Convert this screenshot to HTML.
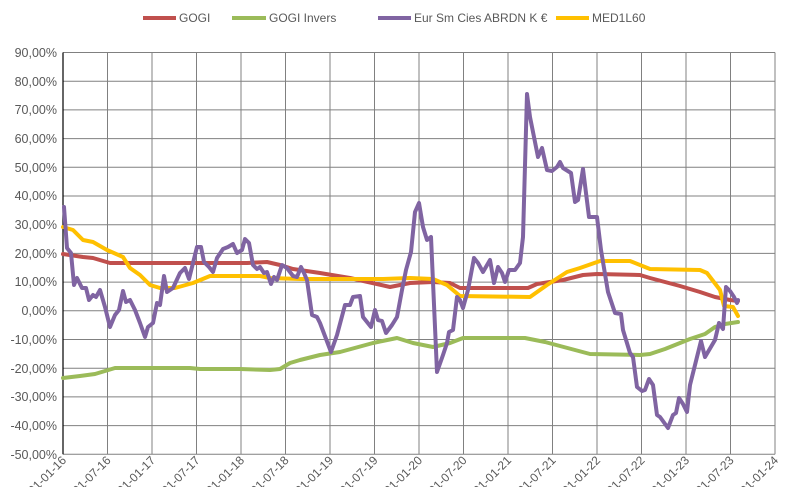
<!DOCTYPE html>
<html><head><meta charset="utf-8"><style>
body{margin:0;background:#fff;}
svg{display:block;font-family:"Liberation Sans",sans-serif;}
</style></head><body>
<svg width="791" height="487" viewBox="0 0 791 487">
<rect width="791" height="487" fill="#fff"/>
<g stroke="#808080" stroke-width="1">
<line x1="63" y1="52.5" x2="775" y2="52.5"/><line x1="63" y1="81.2" x2="775" y2="81.2"/><line x1="63" y1="109.9" x2="775" y2="109.9"/><line x1="63" y1="138.6" x2="775" y2="138.6"/><line x1="63" y1="167.3" x2="775" y2="167.3"/><line x1="63" y1="196" x2="775" y2="196"/><line x1="63" y1="224.7" x2="775" y2="224.7"/><line x1="63" y1="253.4" x2="775" y2="253.4"/><line x1="63" y1="282.1" x2="775" y2="282.1"/><line x1="63" y1="310.8" x2="775" y2="310.8"/><line x1="63" y1="339.5" x2="775" y2="339.5"/><line x1="63" y1="368.2" x2="775" y2="368.2"/><line x1="63" y1="396.9" x2="775" y2="396.9"/><line x1="63" y1="425.6" x2="775" y2="425.6"/><line x1="63" y1="454.3" x2="775" y2="454.3"/>
<line x1="107.5" y1="52.5" x2="107.5" y2="454.3"/><line x1="152" y1="52.5" x2="152" y2="454.3"/><line x1="196.5" y1="52.5" x2="196.5" y2="454.3"/><line x1="241" y1="52.5" x2="241" y2="454.3"/><line x1="285.5" y1="52.5" x2="285.5" y2="454.3"/><line x1="330" y1="52.5" x2="330" y2="454.3"/><line x1="374.5" y1="52.5" x2="374.5" y2="454.3"/><line x1="419" y1="52.5" x2="419" y2="454.3"/><line x1="463.5" y1="52.5" x2="463.5" y2="454.3"/><line x1="508" y1="52.5" x2="508" y2="454.3"/><line x1="552.5" y1="52.5" x2="552.5" y2="454.3"/><line x1="597" y1="52.5" x2="597" y2="454.3"/><line x1="641.5" y1="52.5" x2="641.5" y2="454.3"/><line x1="686" y1="52.5" x2="686" y2="454.3"/><line x1="730.5" y1="52.5" x2="730.5" y2="454.3"/><line x1="775" y1="52.5" x2="775" y2="454.3"/>
</g>
<line x1="63" y1="52.5" x2="63" y2="454.3" stroke="#000" stroke-width="1.2"/>
<g font-size="12.5" fill="#595959" text-anchor="end">
<text x="57" y="57">90,00%</text><text x="57" y="86">80,00%</text><text x="57" y="114">70,00%</text><text x="57" y="143">60,00%</text><text x="57" y="172">50,00%</text><text x="57" y="200">40,00%</text><text x="57" y="229">30,00%</text><text x="57" y="258">20,00%</text><text x="57" y="286">10,00%</text><text x="57" y="315">0,00%</text><text x="57" y="344">-10,00%</text><text x="57" y="373">-20,00%</text><text x="57" y="401">-30,00%</text><text x="57" y="430">-40,00%</text><text x="57" y="459">-50,00%</text>
</g>
<g font-size="12" fill="#595959" text-anchor="end">
<text transform="translate(67,461) rotate(-45)">01-01-16</text><text transform="translate(111.5,461) rotate(-45)">01-07-16</text><text transform="translate(156,461) rotate(-45)">01-01-17</text><text transform="translate(200.5,461) rotate(-45)">01-07-17</text><text transform="translate(245,461) rotate(-45)">01-01-18</text><text transform="translate(289.5,461) rotate(-45)">01-07-18</text><text transform="translate(334,461) rotate(-45)">01-01-19</text><text transform="translate(378.5,461) rotate(-45)">01-07-19</text><text transform="translate(423,461) rotate(-45)">01-01-20</text><text transform="translate(467.5,461) rotate(-45)">01-07-20</text><text transform="translate(512,461) rotate(-45)">01-01-21</text><text transform="translate(556.5,461) rotate(-45)">01-07-21</text><text transform="translate(601,461) rotate(-45)">01-01-22</text><text transform="translate(645.5,461) rotate(-45)">01-07-22</text><text transform="translate(690,461) rotate(-45)">01-01-23</text><text transform="translate(734.5,461) rotate(-45)">01-07-23</text><text transform="translate(779,461) rotate(-45)">01-01-24</text>
</g>
<g fill="none" stroke-width="4" stroke-linejoin="round" stroke-linecap="round">
<polyline stroke="#C0504D" points="63,254 83,257 93,258 110,263 247,263 267,262 280,265 293,269 320,273 350,278 390,287 410,283 433,282 450,283 460,288 528,288 537,284 563,280 583,275 597,274 640,275 650,278 680,286 700,292 715,297 730,300 738,301"/>
<polyline stroke="#9BBB59" points="63,378 80,376 95,374 105,371 115,368 190,368 200,369 230,369 240,369 270,370 280,369 290,363 300,360 320,355 340,352 373,343 397,338 413,343 433,347 450,343 463,338 525,338 545,342 560,346 575,350 590,354 640,355 650,354 665,349 690,339 705,334 715,327 725,324 738,322"/>
<polyline stroke="#FFC000" points="63,227 73,230 83,240 93,242 107,250 123,257 130,268 140,275 150,285 160,288 175,288 193,283 210,276 260,276 270,278 300,279 383,279 410,278 433,279 447,285 460,296 530,297 547,285 567,272 580,268 600,261 630,261 650,269 700,270 707,273 720,290 724,306 733,307 738,316"/>
<polyline stroke="#8064A2" points="64,207 67,248 71,253 74,285 77,278 82,288 86,288 89,300 93,295 96,297 100,290 105,307 110,327 115,315 119,310 123,291 126,302 130,300 135,310 140,323 145,337 148,327 153,323 157,303 160,305 164,276 167,292 173,288 180,273 185,268 189,279 193,263 197,247 201,247 204,262 209,267 213,272 217,258 223,249 228,247 233,244 237,253 242,250 245,239 249,243 253,265 257,269 260,267 264,273 267,272 271,284 274,277 277,280 282,265 287,268 293,276 297,277 301,267 304,273 307,280 312,315 317,317 320,323 331,352 337,335 345,305 350,305 353,297 360,296 363,317 371,327 375,310 378,320 382,321 386,333 392,325 397,317 402,290 406,270 411,252 415,212 419,203 423,227 427,240 431,237 437,372 443,355 447,343 449,332 453,330 457,297 460,300 463,308 468,290 474,258 478,263 483,272 490,260 494,283 498,267 502,273 505,282 509,270 515,270 520,263 523,237 527,94 530,117 538,157 542,148 547,170 552,171 557,167 560,162 563,168 571,173 575,202 578,200 583,169 589,217 597,217 601,250 608,292 615,313 621,314 623,330 630,353 633,357 637,387 642,391 645,390 649,379 653,385 657,415 660,417 668,428 673,415 676,413 679,398 683,404 687,412 690,385 693,373 701,341 705,357 715,340 719,323 723,329 726,287 730,291 734,297 737,303 738,300"/>
</g>
<g font-size="12" fill="#595959">
<line x1="143" y1="18" x2="176" y2="18" stroke="#C0504D" stroke-width="4"/><text x="179" y="22">GOGI</text>
<line x1="232" y1="18" x2="266" y2="18" stroke="#9BBB59" stroke-width="4"/><text x="269" y="22">GOGI Invers</text>
<line x1="378" y1="18" x2="411" y2="18" stroke="#8064A2" stroke-width="4"/><text x="414" y="22">Eur Sm Cies ABRDN K €</text>
<line x1="556" y1="18" x2="589" y2="18" stroke="#FFC000" stroke-width="4"/><text x="592" y="22">MED1L60</text>
</g>
</svg>
</body></html>
